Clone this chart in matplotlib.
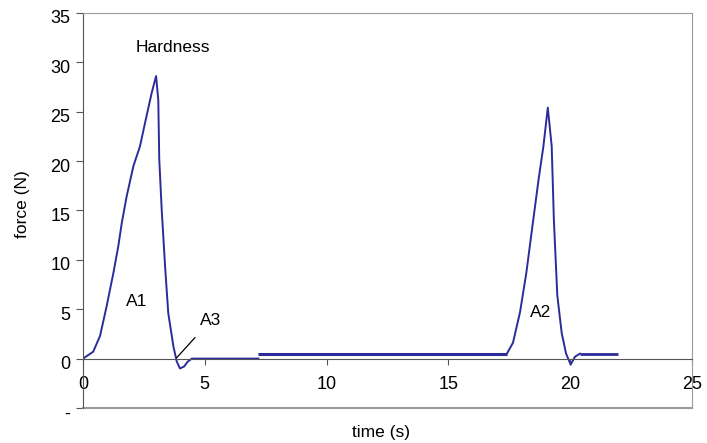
import matplotlib.pyplot as plt
import matplotlib.transforms as mtransforms

plt.rcParams['font.family'] = ['Liberation Sans', 'DejaVu Sans']

# first compression (hardness peak), force in N vs time in s
peak1_t = [0, 0.42, 0.7, 0.97, 1.25, 1.45, 1.59, 1.79, 2.07, 2.34, 2.55, 2.82, 3.0,
           3.09, 3.13, 3.23, 3.37, 3.5, 3.71, 3.85, 3.98, 4.15, 4.3, 4.47, 5.0, 6.0, 7.2]
peak1_f = [0, 0.7, 2.3, 5.3, 8.7, 11.4, 13.7, 16.4, 19.5, 21.5, 23.9, 26.9, 28.6,
           26.2, 20.2, 15.1, 9.3, 4.6, 1.25, -0.3, -1.0, -0.8, -0.3, 0.0, 0.0, 0.0, 0.0]

# waiting plateau between the two compressions
plateau_t = [7.2, 17.4]
plateau_f = [0.5, 0.5]

# second compression
peak2_t = [17.4, 17.65, 17.94, 18.2, 18.47, 18.7, 18.9, 19.08, 19.24, 19.33, 19.47,
           19.65, 19.83, 20.02, 20.2, 20.4]
peak2_f = [0.5, 1.6, 4.7, 8.7, 13.8, 18.1, 21.5, 25.4, 21.5, 14.0, 6.4,
           2.6, 0.5, -0.6, 0.2, 0.5]

tail_t = [20.4, 21.95]
tail_f = [0.5, 0.5]

xticks = [0, 5, 10, 15, 20, 25]
yticks = [-5, 0, 5, 10, 15, 20, 25, 30, 35]
ytick_labels = ['-', '0', '5', '10', '15', '20', '25', '30', '35']

line_col = '#2b2b9c'
frame_col = '#9a9a9a'
axis_col = '#555555'

fig = plt.figure(figsize=(7.07, 4.43), dpi=100)
ax = fig.add_axes([0.1174, 0.079, 0.8614, 0.8921])

ax.plot(peak1_t, peak1_f, color=line_col, lw=1.4)
ax.plot(plateau_t, plateau_f, color=line_col, lw=2.2, solid_capstyle='butt')
ax.plot(peak2_t, peak2_f, color=line_col, lw=1.4)
ax.plot(tail_t, tail_f, color=line_col, lw=2.0, solid_capstyle='butt')

ax.set_xlim(0, 25)
ax.set_ylim(-5, 35)

# x axis sits at force = 0, the plot frame runs round the rest
ax.spines['bottom'].set_position(('data', 0))
ax.spines['bottom'].set_color(axis_col)
ax.spines['left'].set_color(axis_col)
ax.spines['top'].set_color(frame_col)
ax.spines['right'].set_color(frame_col)
ax.axhline(-5, color=frame_col, lw=1.5, clip_on=False)

ax.set_xticks(xticks)
ax.set_yticks(yticks)
ax.set_yticklabels(ytick_labels)
ax.tick_params(axis='x', direction='out', length=4, pad=8.5, labelsize=13, color=axis_col)
ax.tick_params(axis='y', direction='out', length=5, pad=4, labelsize=13, color=axis_col)

# excel-style: y labels sit a few pixels below their ticks
shift = mtransforms.ScaledTranslation(0, -4 / 100, fig.dpi_scale_trans)
for lab in ax.get_yticklabels():
    lab.set_transform(lab.get_transform() + shift)

ax.set_xlabel('time (s)', fontsize=12.5)
ax.xaxis.set_label_coords(0.49, -0.061)
ax.xaxis.label.set_va('center')
ax.set_ylabel('force (N)', fontsize=12.5)
ax.yaxis.set_label_coords(-0.1, 0.515)
ax.yaxis.label.set_va('center')

ax.text(3.7, 31.5, 'Hardness', fontsize=12.5, ha='center', va='center')
ax.text(2.2, 5.8, 'A1', fontsize=12.5, ha='center', va='center')
ax.text(18.8, 4.7, 'A2', fontsize=12.5, ha='center', va='center')
ax.annotate('A3', xy=(3.85, 0.1), xytext=(5.25, 3.9), fontsize=12.5,
            ha='center', va='center',
            arrowprops=dict(arrowstyle='-', color='black', lw=0.9,
                            shrinkA=7, shrinkB=0))

fig.savefig('out.png', dpi=100)
